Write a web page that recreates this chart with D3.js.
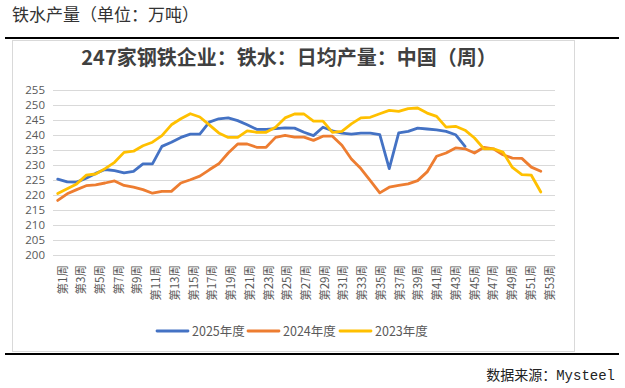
<!DOCTYPE html>
<html><head><meta charset="utf-8">
<script src="https://cdn.jsdelivr.net/npm/d3@7/dist/d3.min.js"></script>
<style>
body{margin:0;background:#fff;}
svg{display:block;}
</style></head>
<body><svg id="c" width="625" height="388"></svg>
<script>
const weeks = ["第1周","第2周","第3周","第4周","第5周","第6周","第7周","第8周","第9周","第10周",
"第11周","第12周","第13周","第14周","第15周","第16周","第17周","第18周","第19周","第20周",
"第21周","第22周","第23周","第24周","第25周","第26周","第27周","第28周","第29周","第30周",
"第31周","第32周","第33周","第34周","第35周","第36周","第37周","第38周","第39周","第40周",
"第41周","第42周","第43周","第44周","第45周","第46周","第47周","第48周","第49周","第50周",
"第51周","第52周","第53周"];
const yTicks = [200,205,210,215,220,225,230,235,240,245,250,255];
const seriesNames = ["2025年度","2024年度","2023年度"];
const s2025 = [225.4,224.5,224.4,225.7,227.3,228.6,228.2,227.5,228.0,230.5,
230.5,236.3,237.7,239.3,240.4,240.4,244.4,245.5,245.8,244.9,
243.5,242.0,242.0,242.2,242.5,242.4,241.0,239.9,242.7,241.5,
240.7,240.4,240.7,240.7,240.2,228.9,240.8,241.3,242.4,242.1,
241.8,241.3,240.2,236.3];
const s2024 = [218.3,220.5,221.9,223.2,223.5,224.1,224.8,223.3,222.7,221.9,
220.7,221.3,221.3,224.1,225.2,226.4,228.5,230.5,234.1,237.1,
237.1,236.0,236.0,239.3,240.0,239.4,239.4,238.3,239.7,239.7,
236.7,232.1,228.9,224.9,220.8,222.7,223.3,223.8,224.9,227.8,
233.0,234.1,235.8,235.5,234.1,236.0,235.5,233.5,232.4,232.3,
229.4,228.0];
const s2023 = [220.6,222.2,223.8,226.7,227.1,228.9,231.0,234.3,234.7,236.5,
237.7,239.9,243.5,245.5,247.2,246.1,243.5,240.8,239.3,239.3,
241.5,241.0,241.0,242.7,245.8,247.1,247.1,244.7,244.7,241.0,
241.3,243.8,245.8,246.0,247.2,248.3,248.0,248.9,249.1,247.4,
246.3,242.7,243.0,241.7,239.1,235.5,235.5,234.4,229.3,226.9,
226.7,221.1];
const colors = ["#4472C4","#ED7D31","#FFC000"];

const svg = d3.select("#c");
const cjk = "'Noto Sans CJK SC','Noto Sans',sans-serif";

// header
svg.append("text").attr("x",12).attr("y",21).attr("font-family",cjk).attr("font-size",17)
  .attr("fill","#333").text("铁水产量（单位：万吨）");
svg.append("line").attr("x1",5).attr("x2",619).attr("y1",38).attr("y2",38)
  .attr("stroke","#000").attr("stroke-width",2);
// chart box
svg.append("rect").attr("x",12.5).attr("y",40.5).attr("width",562).attr("height",311)
  .attr("fill","#fff").attr("stroke","#D9D9D9").attr("stroke-width",1);
svg.append("line").attr("x1",5).attr("x2",619).attr("y1",354).attr("y2",354)
  .attr("stroke","#000").attr("stroke-width",2);
svg.append("text").attr("x",289).attr("y",64.5).attr("text-anchor","middle").attr("font-family",cjk)
  .attr("font-size",20).attr("font-weight","bold").attr("fill","#404040")
  .text("247家钢铁企业：铁水：日均产量：中国（周）");

const x = d3.scaleBand().domain(weeks).range([53,555]).padding(0);
const xl = d3.scalePoint().domain(weeks).range([62,549]);
const y = d3.scaleLinear().domain([200,255]).range([255.3,90.3]);
const cx = w => x(w) + x.bandwidth()/2;

// grid
svg.append("g").selectAll("line").data(yTicks).join("line")
  .attr("x1",53).attr("x2",555).attr("y1",d=>Math.round(y(d))+0.5).attr("y2",d=>Math.round(y(d))+0.5)
  .attr("stroke","#D9D9D9").attr("stroke-width",1);
// y labels
const yAxis = d3.axisLeft(y).tickValues(yTicks).tickSize(0).tickPadding(0);
const ga = svg.append("g").attr("transform","translate(45,0)").call(yAxis);
ga.select(".domain").remove();
ga.selectAll("text").attr("font-family","'Open Sans',sans-serif").attr("font-size",11.5).attr("fill","#595959");

// x labels
const xAxis = d3.axisBottom(xl).tickValues(weeks.filter((d,i)=>i%2===0)).tickSize(0).tickPadding(0);
const gx = svg.append("g").attr("transform","translate(0,265)").call(xAxis);
gx.select(".domain").remove();
gx.selectAll("text").attr("font-family",cjk).attr("font-size",11.5).attr("fill","#595959")
  .attr("text-anchor","end").attr("transform","rotate(-90)").attr("x",0).attr("y",0).attr("dy","0.35em");

// lines
const line = d3.line().x((d,i)=>cx(weeks[i])).y(d=>y(d));
[s2025,s2024,s2023].forEach((s,k)=>{
  svg.append("path").datum(s).attr("d",line).attr("fill","none").attr("stroke",colors[k])
    .attr("stroke-width",2.8).attr("stroke-linejoin","round").attr("stroke-linecap","round");
});

// legend
const legX = [157,248,340];
seriesNames.forEach((n,k)=>{
  svg.append("line").attr("x1",legX[k]).attr("x2",legX[k]+31).attr("y1",331).attr("y2",331)
    .attr("stroke",colors[k]).attr("stroke-width",2.8).attr("stroke-linecap","round");
  svg.append("text").attr("x",legX[k]+35).attr("y",335.5).attr("font-family",cjk).attr("font-size",12.5)
    .attr("fill","#595959").text(n);
});

// source
const src = svg.append("text").attr("x",615).attr("y",380).attr("text-anchor","end").attr("font-size",14).attr("fill","#222");
src.append("tspan").attr("font-family",cjk).text("数据来源：");
src.append("tspan").attr("font-family","'Liberation Mono',monospace").text("Mysteel");
</script></body></html>
